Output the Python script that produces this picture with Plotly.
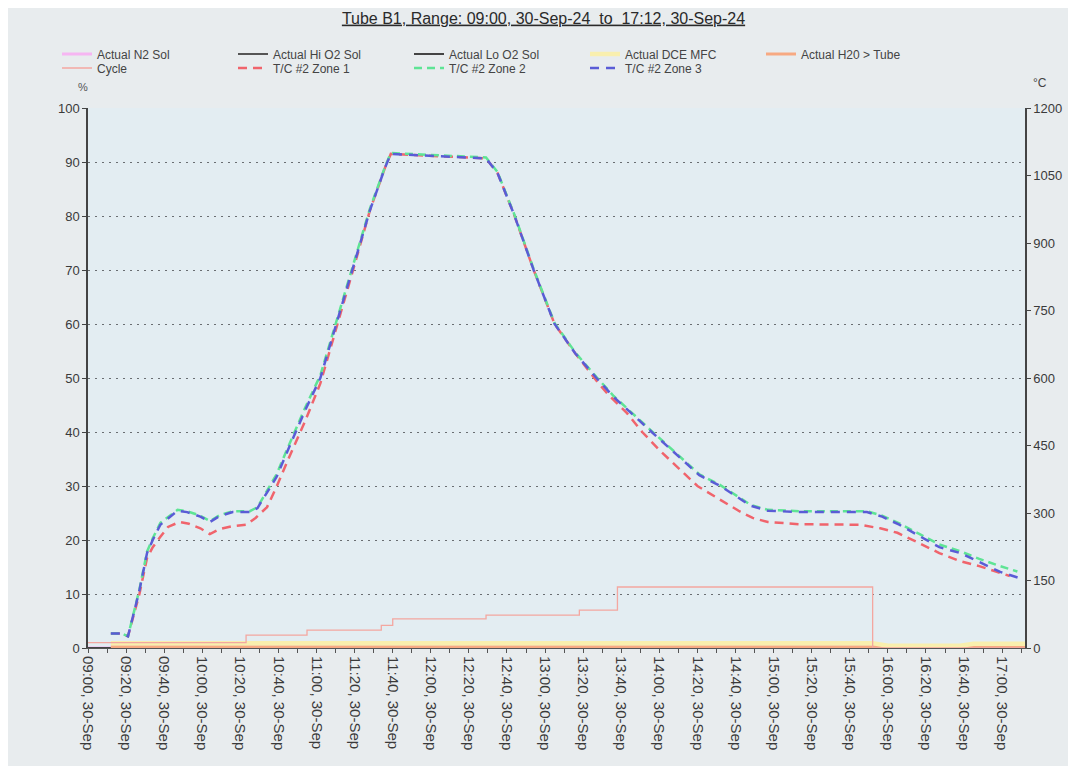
import plotly.graph_objects as go

DAY = "2024-09-30 "

def ts(hm):
    return DAY + hm

# ---- data (times HH:MM) ----
z3_time = ["09:12","09:18","09:21","09:27","09:31","09:34","09:38","09:43","09:47","09:52","09:59","10:04","10:09","10:16","10:25","10:29","10:34","10:39","10:45","10:54","11:02","11:12","11:20","11:28","11:36","11:39","12:29","12:35","12:44","12:54","13:05","13:16","13:27","13:36","13:56","14:21","14:32","14:48","14:57","15:14","15:49","15:57","16:06","16:17","16:27","16:38","16:48","16:59","17:10"]
z3_temp = [32,32,26,128,211,240,274,292,305,302,292,280,293,302,302,311,344,380,440,528,600,744,858,972,1068,1098,1088,1056,960,840,720,654,600,558,480,384,360,316,305,302,302,292,274,247,224,211,191,169,154]

z2_time = ["09:12","09:18","09:21","09:27","09:31","09:34","09:38","09:43","09:47","09:52","09:59","10:04","10:09","10:16","10:25","10:29","10:34","10:39","10:45","10:54","11:02","11:12","11:20","11:28","11:36","11:39","12:29","12:35","12:44","12:54","13:05","13:16","13:27","13:36","13:56","14:21","14:32","14:48","14:57","15:14","15:49","15:57","16:06","16:17","16:27","16:38","16:48","16:59","17:08"]
z2_temp = [32,32,26,130,214,244,278,295,307,304,294,282,295,304,304,313,348,386,446,534,606,750,862,976,1070,1100,1090,1058,962,842,722,656,602,560,482,386,362,318,307,304,304,294,277,252,230,215,198,182,170]

z1_time = ["09:12","09:18","09:21","09:27","09:31","09:34","09:38","09:42","09:48","09:53","09:59","10:04","10:09","10:16","10:23","10:28","10:34","10:39","10:45","10:54","11:02","11:12","11:20","11:28","11:36","11:39","12:29","12:35","12:44","12:54","13:05","13:16","13:27","13:33","13:43","13:51","14:00","14:20","14:42","14:49","14:57","15:14","15:45","15:56","16:05","16:17","16:27","16:38","16:48","16:59","17:04"]
z1_temp = [32,32,26,120,200,224,247,269,280,276,266,253,264,271,274,289,313,358,418,504,588,732,852,972,1068,1098,1088,1056,960,840,720,654,594,564,522,480,440,360,304,289,280,275,274,266,256,232,211,193,182,167,160]

cycle_time = ["09:00","10:23","10:55","11:34","11:40","12:29","13:18","13:38","15:52","17:12"]
cycle_pct = [1.0,2.4,3.3,4.2,5.4,6.1,7.0,11.3,0.0,0.0]

dce_time = ["09:12","15:52","16:00","16:38","16:45","17:12"]
dce_pct = [0.9,0.9,0.4,0.4,0.8,0.8]

h2o_time = ["09:12","17:12"]
h2o_pct = [0.25,0.25]

sol_time = ["09:00","17:12"]
n2_pct = [0.0,0.0]
hio2_pct = [0.0,0.0]
loo2_pct = [0.0,0.0]

tick_times = ["09:00","09:20","09:40","10:00","10:20","10:40","11:00","11:20","11:40","12:00","12:20","12:40",
              "13:00","13:20","13:40","14:00","14:20","14:40","15:00","15:20","15:40","16:00","16:20","16:40","17:00"]

FONT = "Liberation Sans Narrow, Arial Narrow, Liberation Sans, Arial, sans-serif"
W, H = 1068, 758   # page body margin of 8px offsets the figure

fig = go.Figure()

def add(name, times, vals, color, width, dash="solid", axis="y", legend="legend", shape="linear", rank=1):
    fig.add_trace(go.Scatter(
        x=[ts(t) for t in times], y=vals, name=name, mode="lines",
        line=dict(color=color, width=width, dash=dash, shape=shape),
        yaxis=axis, legend=legend, legendrank=rank, hoverinfo="skip"))

# row 1 legend
add("Actual N2 Sol", sol_time, n2_pct, "#f6b6f2", 3, rank=1)
add("Actual Hi O2 Sol", sol_time, hio2_pct, "#555555", 2, rank=2)
add("Actual Lo O2 Sol", sol_time, loo2_pct, "#444444", 2, rank=3)
add("Actual H20 > Tube", h2o_time, h2o_pct, "#f7a982", 3, rank=5)
add("Actual DCE MFC", dce_time, dce_pct, "#f9efae", 4.5, rank=4)
# row 2 legend
add("Cycle", cycle_time, cycle_pct, "#f4a7a0", 1.3, legend="legend2", shape="hv", rank=1)
add("T/C #2 Zone 1", z1_time, z1_temp, "#f0646c", 2.5, dash="9px,6px", axis="y2", legend="legend2", rank=2)
add("T/C #2 Zone 2", z2_time, z2_temp, "#5ee495", 2.5, dash="8px,5px", axis="y2", legend="legend2", rank=3)
add("T/C #2 Zone 3", z3_time, z3_temp, "#5a5cd6", 2.5, dash="9px,7px", axis="y2", legend="legend2", rank=4)

leg_common = dict(orientation="h", xref="container", yref="container",
                  x=49 / W, xanchor="left", yanchor="middle",
                  entrywidth=131, entrywidthmode="pixels", bgcolor="rgba(0,0,0,0)",
                  font=dict(family=FONT, size=12, color="#444"), traceorder="normal",
                  itemwidth=30, tracegroupgap=0)

fig.update_layout(
    width=W, height=H,
    paper_bgcolor="#e8ecee", plot_bgcolor="#e3edf2",
    margin=dict(l=80, r=51, t=100, b=118),
    font=dict(family=FONT, size=12, color="#3a3a3a"),
    title=dict(text="<u>Tube B1, Range: 09:00, 30-Sep-24\u00a0\u00a0to\u00a0\u00a017:12, 30-Sep-24</u>",
               x=535.5 / W, xref="container", xanchor="center",
               y=1 - 10 / H, yref="container", yanchor="middle",
               font=dict(family=FONT, size=16, color="#2a2a2a")),
    showlegend=True,
    legend=dict(y=1 - 46 / H, **leg_common),
    legend2=dict(y=1 - 60 / H, **leg_common),
    xaxis=dict(type="date", range=[ts("09:00"), ts("17:12")],
               tickvals=[ts(t) for t in tick_times], tickformat="%H:%M, %d-%b", tickangle=90,
               ticks="outside", ticklen=4, tickcolor="#555",
               minor=dict(dtick=10 * 60 * 1000, ticks="outside", ticklen=4, tickcolor="#555"),
               showgrid=False, showline=True, linecolor="#555", linewidth=1,
               tickfont=dict(family=FONT, size=15, color="#3a3a3a"), zeroline=False),
    yaxis=dict(range=[0, 100], dtick=10, showgrid=True, gridcolor="#6a6e72",
               griddash="2px,5px", gridwidth=1, showline=True, linecolor="#444",
               linewidth=1.5, ticks="outside", ticklen=4, tickcolor="#444",
               zeroline=False, tickfont=dict(family=FONT, size=13, color="#3a3a3a")),
    yaxis2=dict(range=[0, 1200], dtick=150, overlaying="y", side="right",
                showgrid=False, showline=True, linecolor="#444", linewidth=1.5,
                ticks="outside", ticklen=4, tickcolor="#444", zeroline=False,
                tickfont=dict(family=FONT, size=13, color="#3a3a3a")),
    annotations=[
        dict(text="%", xref="paper", yref="paper", x=0, y=1, xshift=-5, yshift=21,
             showarrow=False, xanchor="center", yanchor="middle",
             font=dict(family=FONT, size=11, color="#555")),
        dict(text="°C", xref="paper", yref="paper", x=1, y=1, xshift=15, yshift=25,
             showarrow=False, xanchor="center", yanchor="middle",
             font=dict(family=FONT, size=12, color="#444")),
    ],
)

fig.write_html("out.html")
